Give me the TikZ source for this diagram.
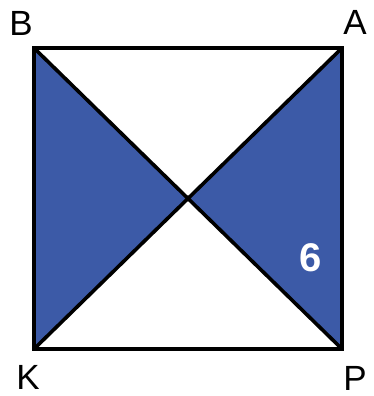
\documentclass[tikz,border=0pt]{standalone}
\usepackage{fontspec}
\setmainfont{Liberation Sans}
\definecolor{fillblue}{RGB}{60,90,167}
\begin{document}
\begin{tikzpicture}[x=1pt,y=1pt,
  edge/.style={line width=3.6pt, line join=miter},
  lbl/.style={font=\fontsize{35}{35}\selectfont, inner sep=0pt}]
\useasboundingbox (0,0) rectangle (373,396);
\coordinate (B) at (34,348);
\coordinate (A) at (342,348);
\coordinate (K) at (34,47);
\coordinate (P) at (342,47);
\coordinate (O) at (188,197.5);
\fill[fillblue] (B) -- (O) -- (K) -- cycle;
\fill[fillblue] (A) -- (O) -- (P) -- cycle;
\draw[edge] (B) -- (P);
\draw[edge] (A) -- (K);
\draw[edge] (B) -- (A) -- (P) -- (K) -- cycle;
\node[lbl] (lB) at (21,373) {B};
\node[lbl] (lA) at (355,374) {A};
\node[lbl] (lK) at (28,19) {K};
\node[lbl] (lP) at (355,18) {P};
\node[lbl, text=white, font=\fontsize{40}{40}\selectfont\bfseries] (six) at (311,138) {6};
\end{tikzpicture}
\end{document}
